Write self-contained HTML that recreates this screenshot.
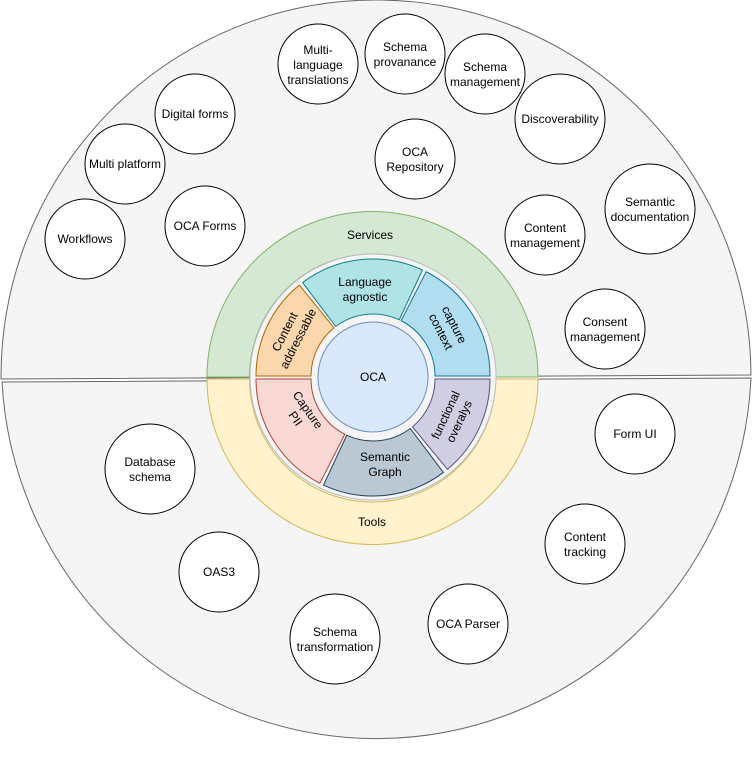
<!DOCTYPE html>
<html><head><meta charset="utf-8"><style>
html,body{margin:0;padding:0;background:#fff;}
svg{display:block;}
text{font-family:"Liberation Sans",sans-serif;font-size:12px;fill:#000;}
</style></head><body>
<svg id="s" width="752" height="757" viewBox="0 0 752 757" xmlns="http://www.w3.org/2000/svg">
<path d="M1,379 A375,377 0 0 1 751,375 Z" fill="#f5f5f5" stroke="#666" stroke-width="1"/>
<path d="M2,382 L751,378 A375,378 0 0 1 2,382 Z" fill="#f5f5f5" stroke="#666" stroke-width="1"/>
<g id="arcs"></g>
<circle cx="373" cy="377" r="55" fill="#dae8fc" stroke="#6c8ebf"/>
<g id="circles" fill="#fff" stroke="#000"></g>
<g text-anchor="middle">
<text x="370" y="239">Services</text>
<text x="372" y="526">Tools</text>
<text x="373" y="381">OCA</text>
<text x="365" y="286">Language</text><text x="365" y="301">agnostic</text>
<text x="385" y="461">Semantic</text><text x="385" y="476">Graph</text>
<g transform="translate(291,335) rotate(-63)"><text x="0" y="-3">Content</text><text x="0" y="12">addressable</text></g>
<g transform="translate(448,328) rotate(63)"><text x="0" y="-3">capture</text><text x="0" y="12">context</text></g>
<g transform="translate(302,414) rotate(55)"><text x="0" y="-3">Capture</text><text x="0" y="12">PII</text></g>
<g transform="translate(452,418) rotate(-65)"><text x="0" y="-3">functional</text><text x="0" y="12">overalys</text></g>

<text x="318" y="54">Multi-</text><text x="318" y="69">language</text><text x="318" y="84">translations</text>
<text x="405" y="51">Schema</text><text x="405" y="66">provanance</text>
<text x="485" y="71">Schema</text><text x="485" y="86">management</text>
<text x="560" y="123">Discoverability</text>
<text x="195" y="118">Digital forms</text>
<text x="125" y="168">Multi platform</text>
<text x="415" y="156">OCA</text><text x="415" y="171">Repository</text>
<text x="650" y="206">Semantic</text><text x="650" y="221">documentation</text>
<text x="85" y="243">Workflows</text>
<text x="205" y="230">OCA Forms</text>
<text x="545" y="232">Content</text><text x="545" y="247">management</text>
<text x="605" y="326">Consent</text><text x="605" y="341">management</text>
<text x="635" y="438">Form UI</text>
<text x="150" y="466">Database</text><text x="150" y="481">schema</text>
<text x="585" y="541">Content</text><text x="585" y="556">tracking</text>
<text x="219" y="576">OAS3</text>
<text x="335" y="636">Schema</text><text x="335" y="651">transformation</text>
<text x="468" y="628">OCA Parser</text>
</g>
<script>
(function(){
var ns="http://www.w3.org/2000/svg";
var g=document.getElementById('arcs');
function P(cx,cy,r,a){var t=a*Math.PI/180;return [cx+r*Math.cos(t),cy-r*Math.sin(t)];}
function seg(cx,cy,r1,r2,a1,a2,fill,stroke){
 var p1=P(cx,cy,r2,a1),p2=P(cx,cy,r2,a2),p3=P(cx,cy,r1,a2),p4=P(cx,cy,r1,a1);
 var sw=a1>a2?1:0; var lg=Math.abs(a2-a1)>180?1:0;
 var d="M"+p1+" A"+r2+","+r2+" 0 "+lg+" "+sw+" "+p2+" L"+p3+" A"+r1+","+r1+" 0 "+lg+" "+(1-sw)+" "+p4+" Z";
 var e=document.createElementNS(ns,'path');e.setAttribute('d',d);e.setAttribute('fill',fill);e.setAttribute('stroke',stroke);g.appendChild(e);}
function circ(cx,cy,r,f,s,par){var e=document.createElementNS(ns,'circle');e.setAttribute('cx',cx);e.setAttribute('cy',cy);e.setAttribute('r',r);e.setAttribute('fill',f);e.setAttribute('stroke',s);(par||g).appendChild(e);}
seg(372.5,377,123,165.5,180,0,'#d5e8d4','#82b366');
seg(372.5,379,123,165.5,180,360,'#fff2cc','#d6b656');
circ(373,377,123,'#f5f5f5','#bbb');
seg(373,376,62,117,180,129,'#fad7ac','#b46504');
seg(373,376,62,117,127,65,'#b0e3e6','#0e8088');
seg(373,376,62,117,63,0,'#b1ddf0','#10739e');
seg(373,379,62,117,180,243,'#fad9d5','#ae4132');
seg(373,379,62,117,245,307,'#bac8d3','#23445d');
seg(373,379,62,117,309.5,360,'#d0cee2','#56517e');
var c=document.getElementById('circles');
[[318,64,40],[405,54,40],[485,74,40],[560,119,45],[195,114,40],[125,164,40],[415,159,40],[650,209,45],[85,239,40],[205,226,40],[545,235,40],[605,329,40],[635,434,40],[150,469,45],[585,544,40],[219,572,40],[335,639,45],[468,624,40]].forEach(function(a){circ(a[0],a[1],a[2],'#fff','#000',c);});
})();
</script>
</svg>
</body></html>
